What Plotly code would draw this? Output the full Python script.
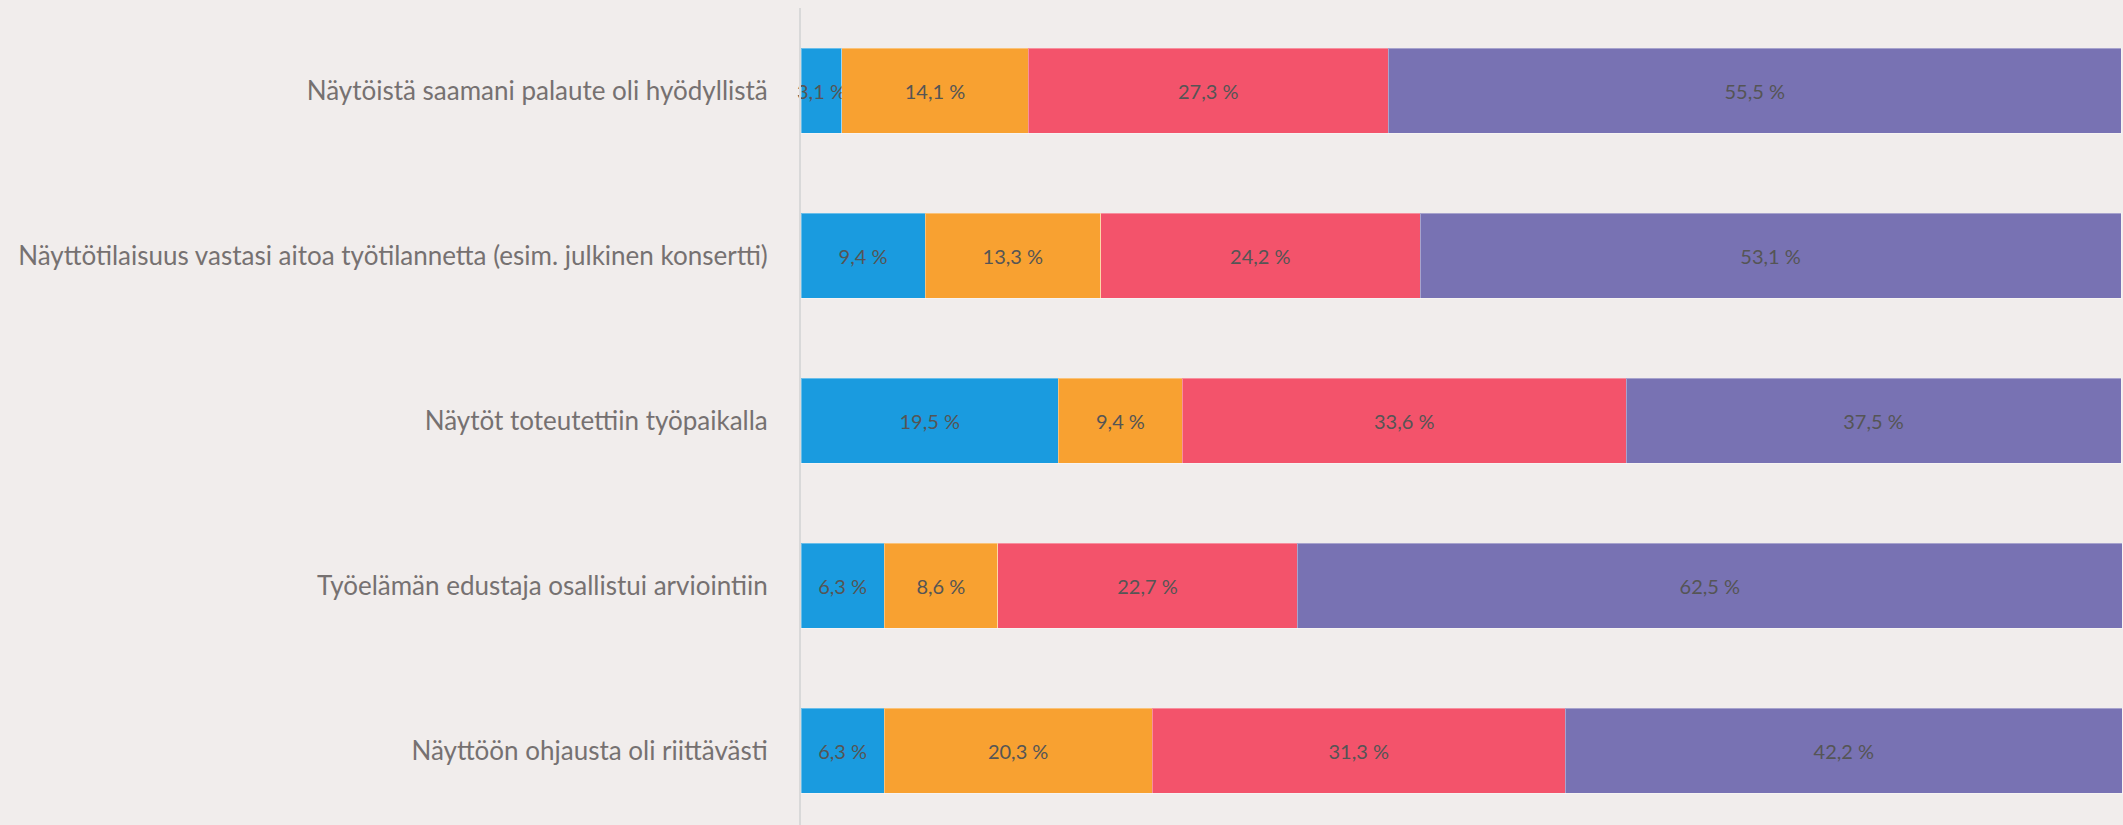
import plotly.graph_objects as go

# statements, top to bottom
categories = [
    'Näytöistä saamani palaute oli hyödyllistä',
    'Näyttötilaisuus vastasi aitoa työtilannetta (esim. julkinen konsertti)',
    'Näytöt toteutettiin työpaikalla',
    'Työelämän edustaja osallistui arviointiin',
    'Näyttöön ohjausta oli riittävästi',
]

# shares (%) per answer group
s1 = [3.1, 9.4, 19.5, 6.3, 6.3]
s2 = [14.1, 13.3, 9.4, 8.6, 20.3]
s3 = [27.3, 24.2, 33.6, 22.7, 31.3]
s4 = [55.5, 53.1, 37.5, 62.5, 42.2]

colors = ['#1A9BDF', '#F8A131', '#F3536B', '#7872B3']
series = [s1, s2, s3, s4]

fig = go.Figure()
for vals, col in zip(series, colors):
    fig.add_trace(go.Bar(
        y=categories, x=vals, orientation='h',
        marker=dict(color=col, line=dict(color='rgba(255,255,255,0.35)', width=1)),
        text=[f'{v:.1f}'.replace('.', ',') + ' %' for v in vals],
        textposition='inside', insidetextanchor='middle', constraintext='none',
        textangle=0,
        textfont=dict(family='Lato', size=20, color='#555555'),
        cliponaxis=False, showlegend=False,
    ))

fig.update_layout(
    barmode='stack', bargap=0.485,
    width=2123, height=825,
    margin=dict(l=801, r=0, t=8, b=0),
    paper_bgcolor='#F1EDEC', plot_bgcolor='#F1EDEC',
    font=dict(family='Lato', color='#767171'),
)
fig.update_xaxes(range=[0, 100.15], visible=False, showgrid=False, zeroline=False)
fig.update_yaxes(
    type='category', categoryorder='array', categoryarray=categories,
    range=[4.45, -0.5], showgrid=False, zeroline=False,
    showline=True, linecolor='#D9D9D9', linewidth=2,
    ticks='', ticklabelstandoff=26, tickfont=dict(family='Lato', size=26, color='#767171'),
)

# drop the default page margin so the figure sits at the window corner
fig.write_html('out.html', config={'displayModeBar': False},
               post_script="document.body.style.margin='0';")
